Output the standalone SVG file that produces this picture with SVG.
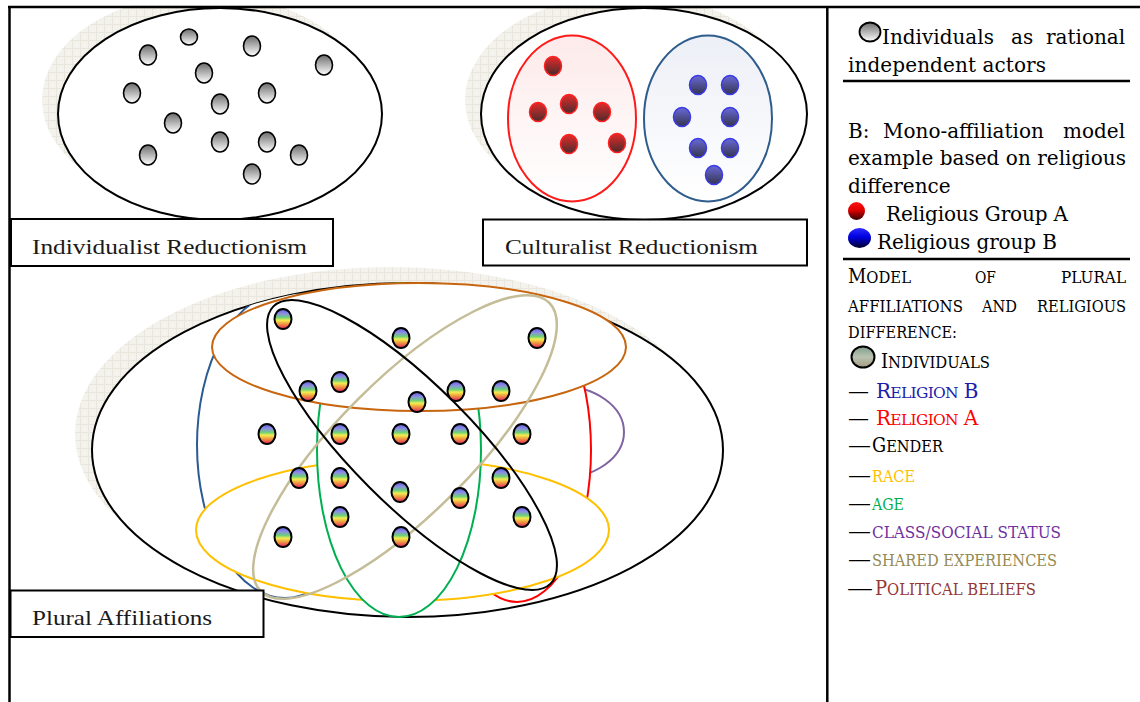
<svg xmlns="http://www.w3.org/2000/svg" width="1140" height="702" viewBox="0 0 1140 702">
<defs>
<pattern id="shadowPat" width="8" height="8" patternUnits="userSpaceOnUse"><rect width="8" height="8" fill="#f3f2ec"/><path d="M0 0.5H8M0.5 0V8" stroke="#e8e6dd" stroke-width="1"/></pattern>
<linearGradient id="gGray" x1="0" y1="0" x2="0" y2="1"><stop offset="0" stop-color="#6c6c6c"/><stop offset="1" stop-color="#ffffff"/></linearGradient>
<linearGradient id="gRed" x1="0" y1="0" x2="0" y2="1"><stop offset="0" stop-color="#e62a2a"/><stop offset="1" stop-color="#4a2b2b"/></linearGradient>
<linearGradient id="gBlue" x1="0" y1="0" x2="0" y2="1"><stop offset="0" stop-color="#6a6ad8"/><stop offset="1" stop-color="#34344e"/></linearGradient>
<linearGradient id="gRedIcon" x1="0" y1="0" x2="0" y2="1"><stop offset="0" stop-color="#ff1010"/><stop offset="0.45" stop-color="#e00000"/><stop offset="1" stop-color="#300000"/></linearGradient>
<linearGradient id="gBlueIcon" x1="0" y1="0" x2="0" y2="1"><stop offset="0" stop-color="#2a2aff"/><stop offset="0.45" stop-color="#0000e0"/><stop offset="1" stop-color="#000028"/></linearGradient>
<linearGradient id="gGreenIcon" x1="0" y1="0" x2="0" y2="1"><stop offset="0" stop-color="#7f9d8b"/><stop offset="0.5" stop-color="#b9c2b1"/><stop offset="1" stop-color="#a49c7e"/></linearGradient>
<linearGradient id="gRain" x1="0" y1="0" x2="0" y2="1"><stop offset="0" stop-color="#5a5ad8"/><stop offset="0.22" stop-color="#8c8ce8"/><stop offset="0.42" stop-color="#6cd07a"/><stop offset="0.56" stop-color="#f2ee50"/><stop offset="0.74" stop-color="#f29a40"/><stop offset="1" stop-color="#e01e62"/></linearGradient>
<linearGradient id="gPink" x1="0" y1="0" x2="0" y2="1"><stop offset="0" stop-color="#fdeaea"/><stop offset="1" stop-color="#ffffff"/></linearGradient>
<linearGradient id="gPale" x1="0" y1="0" x2="0" y2="1"><stop offset="0" stop-color="#eceff6"/><stop offset="1" stop-color="#ffffff"/></linearGradient>
<clipPath id="bigClip"><ellipse cx="407.5" cy="450" rx="315.5" ry="167"/></clipPath>
<clipPath id="pageClip"><rect x="0" y="5" width="1140" height="697"/></clipPath>
</defs>
<style>
.frame{stroke:#000;stroke-width:2.5;fill:none}
.rule{stroke:#000;stroke-width:2.5}
.lbl{fill:#fff;stroke:#000;stroke-width:2}
.lbltxt{font-family:"Liberation Serif",serif;font-size:22px;fill:#1a1a1a}
.leg{font-family:"DejaVu Serif",serif;font-size:20px;fill:#000}
.sc{font-family:"DejaVu Serif",serif;font-size:20px}
.sm{font-size:16.5px}
.sm2{font-size:15.5px}
.tight{letter-spacing:-0.7px}
.shadow{fill:url(#shadowPat)}
.ind{fill:url(#gGray);stroke:#000;stroke-width:1.6}
.rn{fill:url(#gRed);stroke:#ff2020;stroke-width:1.5}
.bn{fill:url(#gBlue);stroke:#3a3ae6;stroke-width:1.5}
.pn{fill:url(#gRain);stroke:#000;stroke-width:2}
</style>

<g id="shadows" clip-path="url(#pageClip)">
<ellipse class="shadow" cx="204" cy="100" rx="162" ry="106"/>
<ellipse class="shadow" cx="628" cy="100" rx="163" ry="106"/>
<ellipse class="shadow" cx="390.5" cy="434" rx="315.5" ry="167"/>
</g>

<g id="frame">
<line class="frame" x1="8" y1="7" x2="1140" y2="7"/>
<line class="frame" x1="9.5" y1="6" x2="9.5" y2="702"/>
<line class="frame" x1="827.3" y1="6" x2="827.3" y2="702"/>
</g>

<g id="individualist">
<ellipse cx="220" cy="114" rx="162" ry="106" fill="#fff" stroke="#000" stroke-width="2"/>
<g id="individualist-nodes">
<ellipse class="ind" cx="148" cy="55" rx="8.5" ry="10"/>
<ellipse class="ind" cx="189" cy="37" rx="8.5" ry="8"/>
<ellipse class="ind" cx="252" cy="46" rx="8.5" ry="10"/>
<ellipse class="ind" cx="324" cy="65" rx="8.5" ry="10"/>
<ellipse class="ind" cx="204" cy="73" rx="8.5" ry="10"/>
<ellipse class="ind" cx="132" cy="93" rx="8.5" ry="10"/>
<ellipse class="ind" cx="267" cy="93" rx="8.5" ry="10"/>
<ellipse class="ind" cx="220" cy="104" rx="8.5" ry="10"/>
<ellipse class="ind" cx="173" cy="123" rx="8.5" ry="10"/>
<ellipse class="ind" cx="220" cy="142" rx="8.5" ry="10"/>
<ellipse class="ind" cx="267" cy="142" rx="8.5" ry="10"/>
<ellipse class="ind" cx="148" cy="155" rx="8.5" ry="10"/>
<ellipse class="ind" cx="299" cy="155" rx="8.5" ry="10"/>
<ellipse class="ind" cx="252" cy="174" rx="8.5" ry="10"/>
</g>
</g>
<g id="label-individualist">
<rect class="lbl" x="11" y="219" width="322" height="47"/>
<text class="lbltxt" x="32" y="254" textLength="275" lengthAdjust="spacingAndGlyphs">Individualist Reductionism</text>
</g>

<g id="culturalist">
<ellipse cx="644" cy="114" rx="163" ry="106" fill="#fff" stroke="#000" stroke-width="2"/>
<g id="group-a">
<ellipse cx="572" cy="118.5" rx="64" ry="83" fill="url(#gPink)" stroke="#ff1a1a" stroke-width="2"/>
<ellipse class="rn" cx="553" cy="66" rx="8.5" ry="9.5"/>
<ellipse class="rn" cx="569" cy="104" rx="8.5" ry="9.5"/>
<ellipse class="rn" cx="538" cy="112" rx="8.5" ry="9.5"/>
<ellipse class="rn" cx="602" cy="112" rx="8.5" ry="9.5"/>
<ellipse class="rn" cx="569" cy="144" rx="8.5" ry="9.5"/>
<ellipse class="rn" cx="617" cy="143" rx="8.5" ry="9.5"/>
</g>
<g id="group-b">
<ellipse cx="708" cy="118.5" rx="64" ry="83" fill="url(#gPale)" stroke="#2e5c8c" stroke-width="2"/>
<ellipse class="bn" cx="698" cy="85" rx="8.5" ry="9.5"/>
<ellipse class="bn" cx="730" cy="85" rx="8.5" ry="9.5"/>
<ellipse class="bn" cx="682" cy="117" rx="8.5" ry="9.5"/>
<ellipse class="bn" cx="730" cy="117" rx="8.5" ry="9.5"/>
<ellipse class="bn" cx="698" cy="148" rx="8.5" ry="9.5"/>
<ellipse class="bn" cx="730" cy="148" rx="8.5" ry="9.5"/>
<ellipse class="bn" cx="714" cy="175" rx="8.5" ry="9.5"/>
</g>
</g>
<g id="label-culturalist">
<rect class="lbl" x="483" y="219.5" width="324" height="46"/>
<text class="lbltxt" x="505" y="254" textLength="253" lengthAdjust="spacingAndGlyphs">Culturalist Reductionism</text>
</g>

<g id="plural">
<ellipse cx="407.5" cy="450" rx="315.5" ry="167" fill="#fff" stroke="#000" stroke-width="2"/>
<ellipse id="religion-b" cx="285" cy="445" rx="88" ry="153" fill="#fff" stroke="#2c5a92" stroke-width="2" clip-path="url(#bigClip)"/>
<ellipse id="class" cx="560" cy="432" rx="64" ry="46" fill="#fff" stroke="#8064a2" stroke-width="2"/>
<ellipse id="religion-a" cx="517" cy="450" rx="74" ry="152" fill="#fff" stroke="#ff0000" stroke-width="2"/>
<ellipse id="race" cx="402.5" cy="530" rx="206.5" ry="71" fill="#fff" stroke="#ffc000" stroke-width="2"/>
<ellipse id="age" cx="399" cy="450" rx="82" ry="167" fill="#fff" stroke="#00b050" stroke-width="2"/>
<ellipse id="political" cx="419" cy="347" rx="207" ry="64" fill="#fff" stroke="#c8650f" stroke-width="2"/>
<ellipse id="shared" cx="405" cy="447" rx="204" ry="67" transform="rotate(-45 405 447)" fill="none" stroke="#c4bd97" stroke-width="2.5"/>
<ellipse id="gender" cx="412" cy="445" rx="196" ry="60" transform="rotate(45 412 445)" fill="none" stroke="#000" stroke-width="2"/>
<g id="plural-nodes">
<ellipse class="pn" cx="283" cy="319" rx="8.5" ry="10"/>
<ellipse class="pn" cx="401" cy="338" rx="8.5" ry="10"/>
<ellipse class="pn" cx="537" cy="338" rx="8.5" ry="10"/>
<ellipse class="pn" cx="308" cy="391" rx="8.5" ry="10"/>
<ellipse class="pn" cx="340" cy="382" rx="8.5" ry="10"/>
<ellipse class="pn" cx="417" cy="402" rx="8.5" ry="10"/>
<ellipse class="pn" cx="456" cy="391" rx="8.5" ry="10"/>
<ellipse class="pn" cx="501" cy="391" rx="8.5" ry="10"/>
<ellipse class="pn" cx="267" cy="434" rx="8.5" ry="10"/>
<ellipse class="pn" cx="340" cy="434" rx="8.5" ry="10"/>
<ellipse class="pn" cx="401" cy="434" rx="8.5" ry="10"/>
<ellipse class="pn" cx="460" cy="434" rx="8.5" ry="10"/>
<ellipse class="pn" cx="522" cy="434" rx="8.5" ry="10"/>
<ellipse class="pn" cx="299" cy="478" rx="8.5" ry="10"/>
<ellipse class="pn" cx="340" cy="478" rx="8.5" ry="10"/>
<ellipse class="pn" cx="400" cy="492" rx="8.5" ry="10"/>
<ellipse class="pn" cx="460" cy="498" rx="8.5" ry="10"/>
<ellipse class="pn" cx="501" cy="478" rx="8.5" ry="10"/>
<ellipse class="pn" cx="340" cy="517" rx="8.5" ry="10"/>
<ellipse class="pn" cx="522" cy="517" rx="8.5" ry="10"/>
<ellipse class="pn" cx="283" cy="537" rx="8.5" ry="10"/>
<ellipse class="pn" cx="401" cy="537" rx="8.5" ry="10"/>
</g>
</g>
<g id="label-plural">
<rect class="lbl" x="10.5" y="590.5" width="253" height="46.5"/>
<text class="lbltxt" x="32" y="625" textLength="180" lengthAdjust="spacingAndGlyphs">Plural Affiliations</text>
</g>

<g id="connectors"></g>

<g id="legend-a">
<ellipse cx="870" cy="32" rx="10.5" ry="9.5" fill="url(#gGray)" stroke="#000" stroke-width="1.8"/>
<text class="leg" y="44"><tspan x="882">Individuals</tspan><tspan x="1011">as</tspan><tspan x="1046">rational</tspan></text>
<text class="leg" x="848" y="72" textLength="198">independent actors</text>
<line class="rule" x1="843" y1="81" x2="1130" y2="81"/>
</g>

<g id="legend-b">
<text class="leg" y="138"><tspan x="848">B:</tspan><tspan x="883">Mono-affiliation</tspan><tspan x="1063">model</tspan></text>
<text class="leg" x="848" y="165" textLength="278">example based on religious</text>
<text class="leg" x="848" y="193">difference</text>
<ellipse cx="856.5" cy="211" rx="8.5" ry="9" fill="url(#gRedIcon)"/>
<text class="leg" x="886" y="221" textLength="182">Religious Group A</text>
<ellipse cx="859.5" cy="238" rx="11.5" ry="10" fill="url(#gBlueIcon)"/>
<text class="leg" x="877" y="249" textLength="180">Religious group B</text>
<line class="rule" x1="843" y1="259" x2="1130" y2="259"/>
</g>

<g id="legend-plural">
<text class="sc" x="848" y="283" textLength="63" lengthAdjust="spacingAndGlyphs">M<tspan class="sm">ODEL</tspan></text>
<text class="sc" x="975" y="283" textLength="21" lengthAdjust="spacingAndGlyphs"><tspan class="sm">OF</tspan></text>
<text class="sc" x="1061" y="283" textLength="65" lengthAdjust="spacingAndGlyphs"><tspan class="sm">PLURAL</tspan></text>
<text class="sc" x="848" y="312" textLength="115" lengthAdjust="spacingAndGlyphs"><tspan class="sm">AFFILIATIONS</tspan></text>
<text class="sc" x="982" y="312" textLength="35" lengthAdjust="spacingAndGlyphs"><tspan class="sm">AND</tspan></text>
<text class="sc" x="1037" y="312" textLength="89" lengthAdjust="spacingAndGlyphs"><tspan class="sm">RELIGIOUS</tspan></text>
<text class="sc" x="848" y="338" textLength="109" lengthAdjust="spacingAndGlyphs"><tspan class="sm">DIFFERENCE:</tspan></text>
<ellipse cx="863" cy="357" rx="11.5" ry="10.5" fill="url(#gGreenIcon)" stroke="#000" stroke-width="2"/>
<text class="sc" x="881" y="368" textLength="109" lengthAdjust="spacingAndGlyphs">I<tspan class="sm">NDIVIDUALS</tspan></text>
<text class="sc" x="848" y="398" textLength="21" lengthAdjust="spacingAndGlyphs">—</text>
<text class="sc tight" x="876" y="398" fill="#1c1cab">R<tspan class="sm2">ELIGION</tspan> B</text>
<text class="sc" x="848" y="425" textLength="21" lengthAdjust="spacingAndGlyphs">—</text>
<text class="sc tight" x="876" y="425" fill="#ff0000">R<tspan class="sm2">ELIGION</tspan> A</text>
<text class="sc" x="848" y="452" textLength="23" lengthAdjust="spacingAndGlyphs">—</text>
<text class="sc" x="872" y="452" textLength="71" lengthAdjust="spacingAndGlyphs">G<tspan class="sm">ENDER</tspan></text>
<text class="sc" x="848" y="482" textLength="23" lengthAdjust="spacingAndGlyphs">—</text>
<text class="sc" x="872" y="482" textLength="43" lengthAdjust="spacingAndGlyphs" fill="#ffc000"><tspan class="sm">RACE</tspan></text>
<text class="sc" x="848" y="510" textLength="23" lengthAdjust="spacingAndGlyphs">—</text>
<text class="sc" x="872" y="510" textLength="32" lengthAdjust="spacingAndGlyphs" fill="#00b050"><tspan class="sm">AGE</tspan></text>
<text class="sc" x="848" y="538" textLength="23" lengthAdjust="spacingAndGlyphs">—</text>
<text class="sc" x="872" y="538" textLength="189" lengthAdjust="spacingAndGlyphs" fill="#7030a0"><tspan class="sm">CLASS/SOCIAL STATUS</tspan></text>
<text class="sc" x="848" y="566" textLength="23" lengthAdjust="spacingAndGlyphs">—</text>
<text class="sc" x="872" y="566" textLength="185" lengthAdjust="spacingAndGlyphs" fill="#948a54"><tspan class="sm">SHARED EXPERIENCES</tspan></text>
<text class="sc" x="847" y="595" textLength="26" lengthAdjust="spacingAndGlyphs">—</text>
<text class="sc" x="875" y="595" textLength="161" lengthAdjust="spacingAndGlyphs" fill="#953735">P<tspan class="sm">OLITICAL BELIEFS</tspan></text>
</g>
</svg>
